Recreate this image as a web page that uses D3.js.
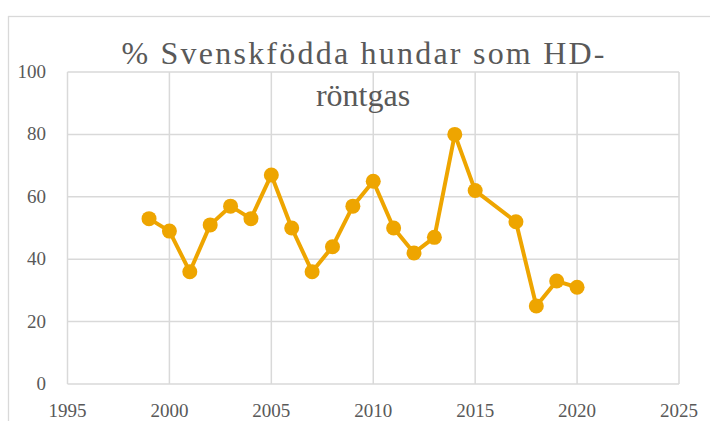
<!DOCTYPE html>
<html>
<head>
<meta charset="utf-8">
<script src="https://cdn.jsdelivr.net/npm/d3@7"></script>
<style>
  body { margin: 0; background: #fff; }
</style>
</head>
<body>
<div class="container"></div>
<script>
// data
const years = [1999, 2000, 2001, 2002, 2003, 2004, 2005, 2006, 2007, 2008, 2009,
  2010, 2011, 2012, 2013, 2014, 2015, 2017, 2018, 2019, 2020];
const values = [53, 49, 36, 51, 57, 53, 67, 50, 36, 44, 57,
  65, 50, 42, 47, 80, 62, 52, 25, 33, 31];
const xTicks = [1995, 2000, 2005, 2010, 2015, 2020, 2025];
const yTicks = [0, 20, 40, 60, 80, 100];
const titleLines = ['% Svenskfödda hundar som HD-', 'röntgas'];

// config
const config = {
  width: 710,
  height: 421,
  plot: { left: 67.5, right: 679, top: 72, bottom: 384 },
  font: "'Liberation Serif', 'Noto Serif', 'DejaVu Serif', FreeSerif, 'Times New Roman', serif",
  titleWidths: [483, null], // measured width of the first title line
  color: { line: '#EEA500', grid: '#D9D9D9', border: '#D9D9D9', text: '#595959' }
};

const svg = d3.select('.container')
  .append('svg')
  .attr('width', config.width)
  .attr('height', config.height)
  .attr('font-family', config.font);

// chart border (cropped at right and bottom)
svg.append('rect')
  .attr('x', 8.5).attr('y', 16.5)
  .attr('width', 720).attr('height', 430)
  .attr('fill', 'none')
  .attr('stroke', config.color.border)
  .attr('stroke-width', 1.3);

const x = d3.scaleLinear().domain([1995, 2025]).range([config.plot.left, config.plot.right]);
const y = d3.scaleLinear().domain([0, 100]).range([config.plot.bottom, config.plot.top]);

// gridlines
const grid = svg.append('g');
grid.selectAll('.vgrid')
  .data(xTicks)
  .enter().append('line')
  .attr('x1', d => x(d)).attr('x2', d => x(d))
  .attr('y1', y(0)).attr('y2', y(100))
  .attr('stroke', config.color.grid)
  .attr('stroke-width', 1.5);
grid.selectAll('.hgrid')
  .data(yTicks)
  .enter().append('line')
  .attr('x1', x(1995)).attr('x2', x(2025))
  .attr('y1', d => y(d)).attr('y2', d => y(d))
  .attr('stroke', config.color.grid)
  .attr('stroke-width', 1.5);

// axis labels
svg.append('g').selectAll('text')
  .data(yTicks)
  .enter().append('text')
  .attr('x', 46)
  .attr('y', d => y(d) + 6)
  .attr('text-anchor', 'end')
  .attr('fill', config.color.text)
  .attr('font-size', 19)
  .text(d => d);

svg.append('g').selectAll('text')
  .data(xTicks)
  .enter().append('text')
  .attr('x', d => x(d))
  .attr('y', 417)
  .attr('text-anchor', 'middle')
  .attr('fill', config.color.text)
  .attr('font-size', 19)
  .text(d => d);

// title
svg.append('g').selectAll('text')
  .data(titleLines)
  .enter().append('text')
  .attr('x', 363)
  .attr('y', (d, i) => 64 + i * 42)
  .attr('text-anchor', 'middle')
  .attr('fill', config.color.text)
  .attr('font-size', 32)
  .each(function (d, i) {
    if (config.titleWidths[i]) {
      d3.select(this).attr('textLength', config.titleWidths[i]).attr('lengthAdjust', 'spacing');
    }
  })
  .text(d => d);

// line + markers
const pts = years.map((yr, i) => ({ year: yr, value: values[i] }));
const line = d3.line().x(d => x(d.year)).y(d => y(d.value));

svg.append('path')
  .datum(pts)
  .attr('d', line)
  .attr('fill', 'none')
  .attr('stroke', config.color.line)
  .attr('stroke-width', 4)
  .attr('stroke-linejoin', 'round');

svg.append('g').selectAll('circle')
  .data(pts)
  .enter().append('circle')
  .attr('cx', d => x(d.year))
  .attr('cy', d => y(d.value))
  .attr('r', 7.5)
  .attr('fill', config.color.line);
</script>
</body>
</html>
